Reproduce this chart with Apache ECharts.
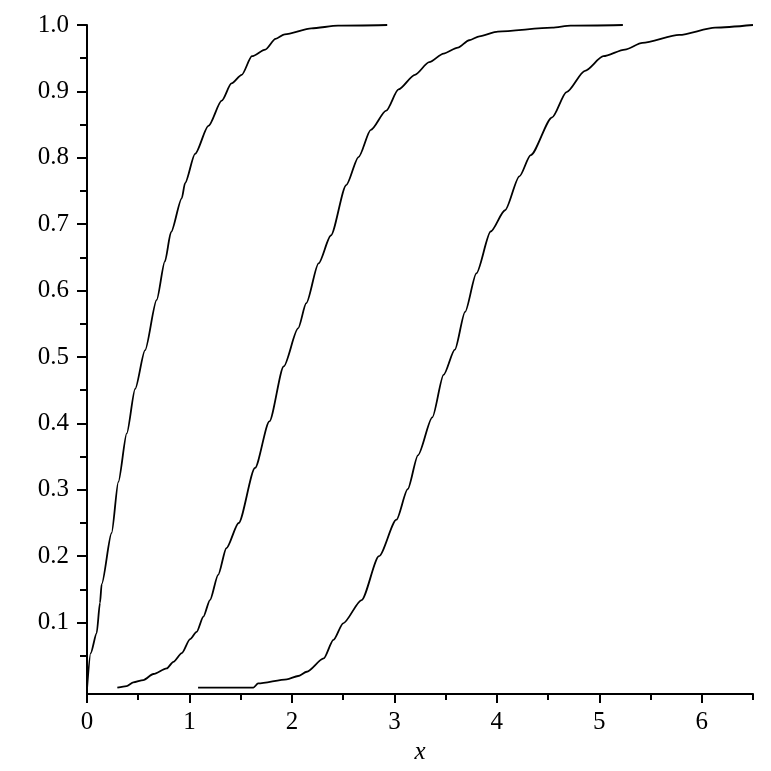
<!DOCTYPE html>
<html>
<head>
<meta charset="utf-8">
<script src="https://cdn.jsdelivr.net/npm/echarts@6/dist/echarts.min.js"></script>
<style>html,body{margin:0;padding:0;background:#fff}#c{width:771px;height:771px}</style>
</head>
<body>
<div id="c"></div>
<script>
// Curve 1
const x1 = [0, 0.036, 0.094, 0.127, 0.143, 0.24, 0.306, 0.388, 0.47, 0.566, 0.68, 0.76, 0.82, 0.925, 0.957, 1.055, 1.185, 1.315, 1.41, 1.51, 1.61, 1.74, 1.84, 1.93, 2.19, 2.45, 2.93];
const y1 = [0, 0.054, 0.084, 0.13, 0.158, 0.235, 0.312, 0.385, 0.452, 0.51, 0.586, 0.644, 0.688, 0.739, 0.762, 0.806, 0.848, 0.886, 0.912, 0.925, 0.953, 0.963, 0.979, 0.986, 0.995, 0.999, 1.0];
// Curve 2
const x2 = [0.296, 0.387, 0.452, 0.55, 0.648, 0.778, 0.843, 0.925, 1.006, 1.07, 1.136, 1.2, 1.28, 1.36, 1.48, 1.64, 1.78, 1.92, 2.06, 2.14, 2.26, 2.38, 2.53, 2.65, 2.77, 2.92, 3.04, 3.2, 3.34, 3.48, 3.62, 3.73, 3.83, 4.01, 4.54, 4.72, 5.23];
const y2 = [0.002, 0.0045, 0.01, 0.0135, 0.0226, 0.031, 0.041, 0.054, 0.075, 0.086, 0.109, 0.134, 0.172, 0.212, 0.25, 0.333, 0.403, 0.486, 0.543, 0.581, 0.641, 0.683, 0.759, 0.801, 0.842, 0.871, 0.903, 0.925, 0.944, 0.957, 0.966, 0.977, 0.983, 0.99, 0.996, 0.999, 1.0];
// Curve 3
const x3 = [1.084, 1.624, 1.67, 1.95, 2.06, 2.145, 2.31, 2.405, 2.5, 2.68, 2.85, 3.02, 3.13, 3.23, 3.37, 3.48, 3.59, 3.69, 3.8, 3.94, 4.08, 4.22, 4.33, 4.54, 4.68, 4.86, 5.04, 5.25, 5.42, 5.78, 6.13, 6.5];
const y3 = [0.002, 0.002, 0.0085, 0.0146, 0.0196, 0.026, 0.046, 0.074, 0.099, 0.134, 0.2, 0.255, 0.301, 0.352, 0.409, 0.473, 0.511, 0.568, 0.626, 0.689, 0.721, 0.772, 0.804, 0.861, 0.899, 0.931, 0.953, 0.963, 0.973, 0.985, 0.996, 1.0];

const xMajor = [0, 1, 2, 3, 4, 5, 6];
const xMinor = [0.5, 1.5, 2.5, 3.5, 4.5, 5.5, 6.5];
const yMajor = [0.1, 0.2, 0.3, 0.4, 0.5, 0.6, 0.7, 0.8, 0.9, 1.0];
const yMinor = [0.05, 0.15, 0.25, 0.35, 0.45, 0.55, 0.65, 0.75, 0.85, 0.95];

function pairs(xs, ys) { return xs.map((v, i) => [v, ys[i]]); }

const font = '"Liberation Serif", "DejaVu Serif", serif';
const chart = echarts.init(document.getElementById('c'), null, {renderer: 'canvas'});
const lineSeries = (d) => ({
  type: 'line', data: d, xAxisIndex: 0, yAxisIndex: 0,
  showSymbol: false, symbol: 'none', animation: false,
  smooth: 0.25, smoothMonotone: 'x',
  lineStyle: {color: '#000', width: 1.8}, silent: true
});
chart.setOption({
  animation: false,
  grid: {left: 87, right: 18, top: 25, bottom: 77, containLabel: false},
  xAxis: [
    {type: 'value', min: 0, max: 6.5, position: 'bottom',
     name: 'x', nameLocation: 'middle', nameGap: 40,
     nameTextStyle: {fontFamily: font, fontStyle: 'italic', fontSize: 25, color: '#000'},
     axisLine: {show: true, onZero: false, lineStyle: {color: '#000', width: 2}},
     axisTick: {show: true, inside: false, length: 9, customValues: xMajor, lineStyle: {color: '#000', width: 2}},
     axisLabel: {show: true, customValues: xMajor, margin: 16, color: '#000', fontFamily: font, fontSize: 25,
       formatter: v => String(Math.round(v))},
     splitLine: {show: false}},
    {type: 'value', min: 0, max: 6.5, position: 'bottom',
     axisLine: {show: false, onZero: false},
     axisTick: {show: true, inside: false, length: 6, customValues: xMinor, lineStyle: {color: '#000', width: 2}},
     axisLabel: {show: false},
     splitLine: {show: false}}
  ],
  yAxis: [
    {type: 'value', min: -0.0075, max: 1.0, position: 'left',
     axisLine: {show: true, onZero: false, lineStyle: {color: '#000', width: 2}},
     axisTick: {show: true, inside: false, length: 10, customValues: yMajor, lineStyle: {color: '#000', width: 2}},
     axisLabel: {show: true, customValues: yMajor, margin: 18, color: '#000', fontFamily: font, fontSize: 25,
       formatter: v => v.toFixed(1)},
     splitLine: {show: false}},
    {type: 'value', min: -0.0075, max: 1.0, position: 'left',
     axisLine: {show: false, onZero: false},
     axisTick: {show: true, inside: false, length: 7, customValues: yMinor, lineStyle: {color: '#000', width: 2}},
     axisLabel: {show: false},
     splitLine: {show: false}}
  ],
  series: [lineSeries(pairs(x1, y1)), lineSeries(pairs(x2, y2)), lineSeries(pairs(x3, y3))]
});
</script>
</body>
</html>
